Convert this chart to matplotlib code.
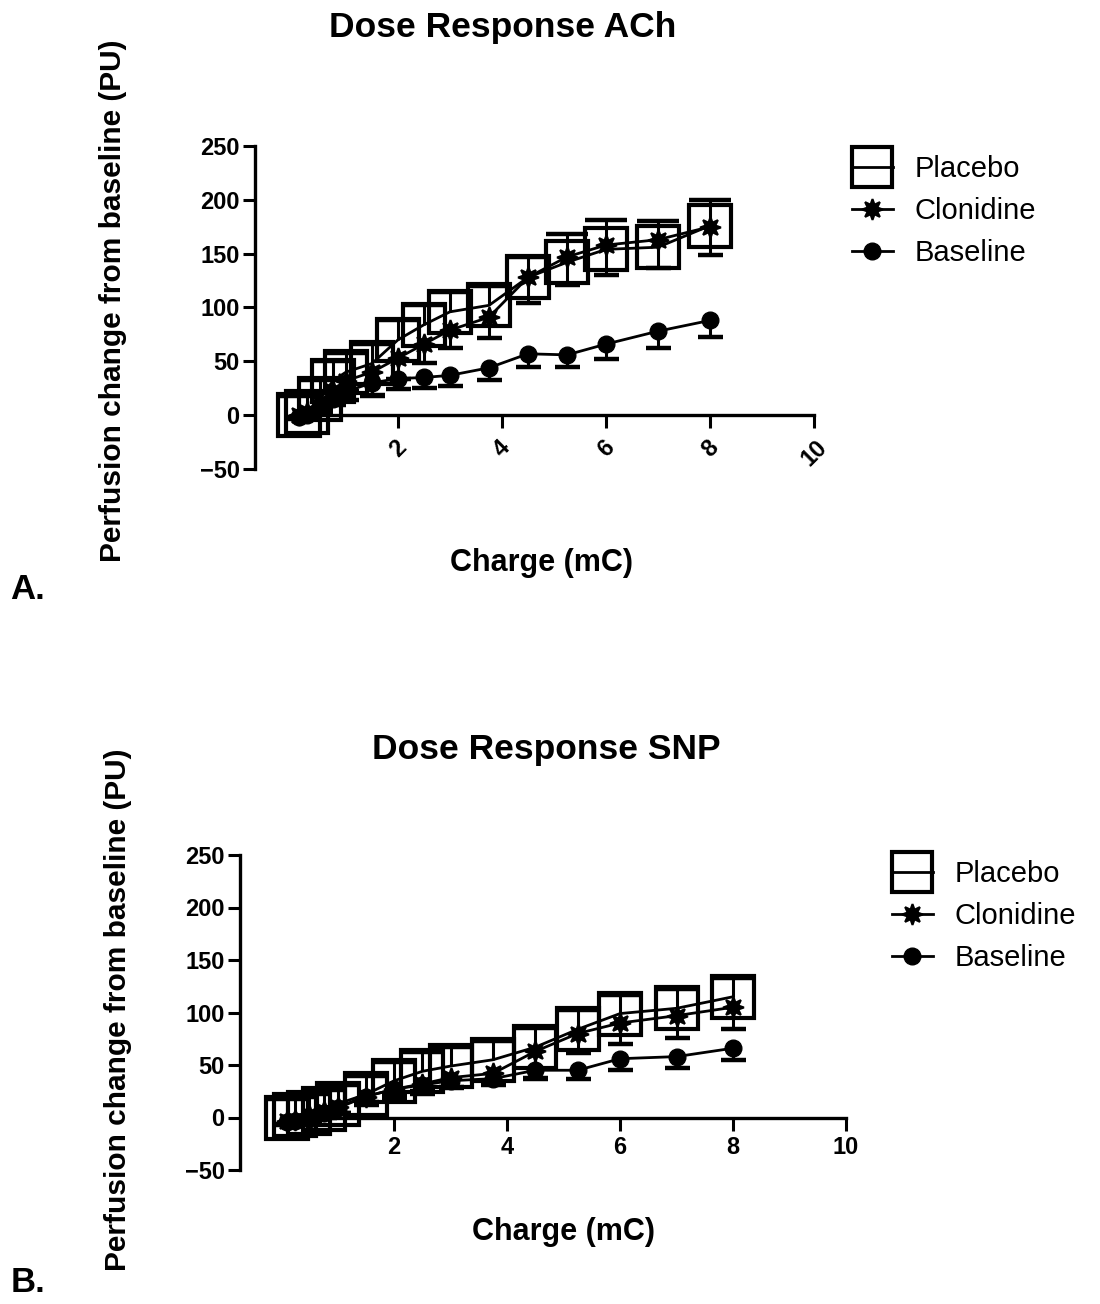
import matplotlib
matplotlib.use("Agg")
import matplotlib.pyplot as plt
from matplotlib.lines import Line2D
import numpy as np

plt.rcParams['font.family'] = ['Liberation Sans', 'DejaVu Sans']

# ---------------- data ----------------
charge = [0.1, 0.25, 0.5, 0.75, 1.0, 1.5, 2.0, 2.5, 3.0, 3.75, 4.5, 5.25, 6.0, 7.0, 8.0]
series_names = ["Placebo", "Clonidine", "Baseline"]

# Panel A: Dose Response ACh
ach_placebo = [0, 3, 15, 32, 40, 48, 70, 84, 96, 102, 128, 142, 154, 156, 176]
ach_placebo_err = [18, 18, 18, 18, 18, 18, 18, 18, 18, 18, 19, 26, 27, 24, 24]
ach_clonidine = [0, 3, 12, 22, 32, 40, 53, 66, 79, 91, 128, 147, 158, 163, 175]
ach_clonidine_err = [2, 3, 5, 8, 10, 22, 19, 18, 17, 19, 24, 26, 28, 26, 26]
ach_baseline = [-2, 0, 8, 15, 22, 30, 34, 35, 37, 44, 57, 56, 66, 78, 88]
ach_baseline_err = [2, 3, 5, 6, 8, 11, 10, 10, 10, 11, 12, 11, 14, 16, 15]

# Panel B: Dose Response SNP
snp_placebo = [0, 2, 4, 8, 13, 22, 35, 44, 49, 55, 67, 84, 99, 104, 115]
snp_placebo_err = [18, 18, 18, 18, 18, 18, 18, 18, 18, 18, 18, 18, 18, 18, 18]
snp_clonidine = [-3, -2, 2, 6, 10, 20, 27, 32, 38, 42, 63, 80, 90, 97, 105]
snp_clonidine_err = [3, 3, 4, 5, 6, 8, 8, 10, 10, 10, 25, 19, 20, 21, 21]
snp_baseline = [-4, -3, -1, 4, 9, 20, 27, 31, 35, 37, 45, 45, 56, 58, 66]
snp_baseline_err = [3, 3, 4, 4, 5, 5, 5, 6, 6, 6, 8, 8, 11, 11, 11]

x_ticks = [2, 4, 6, 8, 10]
y_ticks = [-50, 0, 50, 100, 150, 200, 250]

# ---------------- figure ----------------
W, H = 1100, 1304
fig = plt.figure(figsize=(W / 100, H / 100), dpi=100)
fig.patch.set_facecolor("white")

BOX_MS = 30.5


def px_axes(left, right, top, bottom):
    return fig.add_axes([left / W, 1 - bottom / H, (right - left) / W, (bottom - top) / H])


def draw_panel(ax, xleft, plac, plac_err, clon, clon_err, base, base_err, rotate):
    x = np.array(charge)
    # Placebo: open squares, upper error bars only
    p = np.array(plac); pe = np.array(plac_err)
    ax.vlines(x, p, p + pe, color="black", lw=2.2, clip_on=False, zorder=2)
    ax.plot(x, p + pe, ls="none", marker="_", ms=30, mew=3.2, color="black", clip_on=False, zorder=2)
    ax.plot(x, p, color="black", lw=2.0, marker="s", ms=BOX_MS, mfc="none", mew=3.0,
            mec="black", clip_on=False, zorder=3)
    # Clonidine: stars, lower error bars only
    c = np.array(clon); ce = np.array(clon_err)
    ax.vlines(x, c - ce, c, color="black", lw=2.2, clip_on=False, zorder=4)
    ax.plot(x, c - ce, ls="none", marker="_", ms=18, mew=3.2, color="black", clip_on=False, zorder=4)
    ax.plot(x, c, color="black", lw=2.0, marker=(8, 1, 0), ms=15, mfc="black", mec="black",
            mew=1.5, clip_on=False, zorder=5)
    # Baseline: filled circles, lower error bars only
    b = np.array(base); be = np.array(base_err)
    ax.vlines(x, b - be, b, color="black", lw=2.2, clip_on=False, zorder=6)
    ax.plot(x, b - be, ls="none", marker="_", ms=18, mew=3.2, color="black", clip_on=False, zorder=6)
    ax.plot(x, b, color="black", lw=2.0, marker="o", ms=12, mfc="black", mec="black",
            clip_on=False, zorder=7)

    ax.set_xlim(xleft, 10)
    ax.set_ylim(-50, 250)
    for s in ("top", "right"):
        ax.spines[s].set_visible(False)
    ax.spines["bottom"].set_position(("data", 0))
    ax.spines["bottom"].set_bounds(0, 10)
    ax.spines["left"].set_bounds(-50, 250)
    for s in ("bottom", "left"):
        ax.spines[s].set_linewidth(2.4)
    ax.set_xticks(x_ticks)
    ax.set_yticks(y_ticks)
    ax.tick_params(axis="both", direction="out", length=9, width=2.2, pad=2,
                   labelsize=17)
    for lab in ax.get_yticklabels():
        lab.set_fontweight("bold")
    if rotate:
        ax.set_xticklabels([str(t) for t in x_ticks], rotation=45, ha="center", va="top",
                           fontweight="bold", fontsize=17)
        ax.tick_params(axis="x", pad=6)
    else:
        ax.set_xticklabels([str(t) for t in x_ticks], fontweight="bold", fontsize=17)
        ax.tick_params(axis="x", pad=4)


def legend_for(ax, x0, y0):
    handles = [
        Line2D([], [], color="black", lw=2.0, marker="s", ms=BOX_MS * 0.95, mfc="none", mew=3.0),
        Line2D([], [], color="black", lw=2.0, marker=(8, 1, 0), ms=15, mfc="black", mew=1.5),
        Line2D([], [], color="black", lw=2.0, marker="o", ms=12, mfc="black"),
    ]
    ax.legend(handles, series_names, loc="upper left", bbox_to_anchor=(x0 / W, 1 - y0 / H),
              bbox_transform=fig.transFigure, frameon=False, fontsize=21,
              handlelength=1.4, handletextpad=0.75, labelspacing=0.48, borderpad=0,
              borderaxespad=0)


# Panel A
axA = px_axes(255, 814, 146, 469)
draw_panel(axA, -0.75, ach_placebo, ach_placebo_err, ach_clonidine, ach_clonidine_err,
           ach_baseline, ach_baseline_err, rotate=True)
legend_for(axA, 852, 155)

# Panel B
axB = px_axes(240, 846, 855, 1170)
draw_panel(axB, -0.73, snp_placebo, snp_placebo_err, snp_clonidine, snp_clonidine_err,
           snp_baseline, snp_baseline_err, rotate=False)
legend_for(axB, 892, 860)

# Texts
fig.text(503 / W, 1 - 27 / H, "Dose Response ACh", ha="center", va="center",
         fontsize=25.5, fontweight="bold")
fig.text(546 / W, 1 - 750 / H, "Dose Response SNP", ha="center", va="center",
         fontsize=25.5, fontweight="bold")
fig.text(113 / W, 1 - 301 / H, "Perfusion change from baseline (PU)", rotation=90,
         ha="center", va="center", fontsize=21.5, fontweight="bold")
fig.text(118 / W, 1 - 1010 / H, "Perfusion change from baseline (PU)", rotation=90,
         ha="center", va="center", fontsize=21.5, fontweight="bold")
fig.text(541 / W, 1 - 563 / H, "Charge (mC)", ha="center", va="center",
         fontsize=22, fontweight="bold")
fig.text(564 / W, 1 - 1232 / H, "Charge (mC)", ha="center", va="center",
         fontsize=22, fontweight="bold")
fig.text(28 / W, 1 - 590 / H, "A.", ha="center", va="center", fontsize=25, fontweight="bold")
fig.text(28 / W, 1 - 1282 / H, "B.", ha="center", va="center", fontsize=25, fontweight="bold")

fig.savefig("out.png", dpi=100, facecolor="white")
